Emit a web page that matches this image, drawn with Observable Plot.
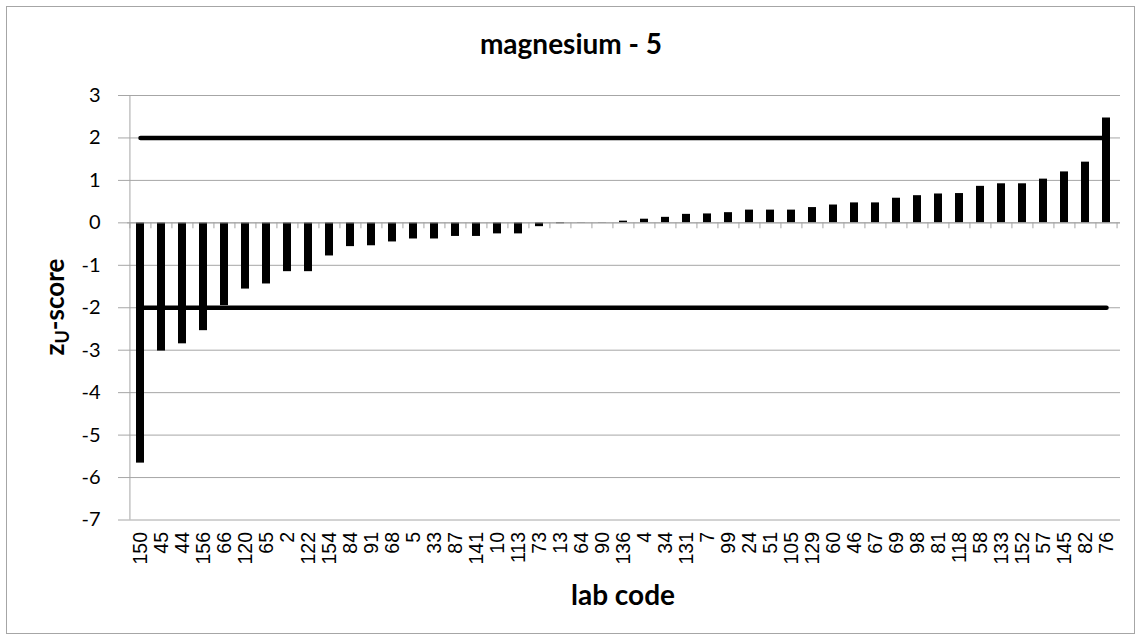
<!DOCTYPE html>
<html>
<head>
<meta charset="utf-8">
<script src="https://cdn.jsdelivr.net/npm/d3@7"></script>
<script src="https://cdn.jsdelivr.net/npm/@observablehq/plot@0.6"></script>
<style>
  html, body { margin: 0; padding: 0; background: #fff; }
  #chart { width: 1141px; height: 640px; }
</style>
</head>
<body>
<div id="chart"></div>
<script>
// ---- data ----
const labCodes = ["150","45","44","156","66","120","65","2","122","154","84","91","68","5","33","87","141","10","113","73","13","64","90","136","4","34","131","7","99","24","51","105","129","60","46","67","69","98","81","118","58","133","152","57","145","82","76"];
const zScores = [-5.66,-3.02,-2.85,-2.54,-1.95,-1.56,-1.44,-1.15,-1.15,-0.78,-0.56,-0.54,-0.45,-0.38,-0.38,-0.32,-0.32,-0.26,-0.26,-0.09,-0.02,0.005,0.005,0.04,0.086,0.13,0.2,0.21,0.24,0.3,0.3,0.3,0.36,0.42,0.47,0.47,0.58,0.64,0.68,0.69,0.86,0.92,0.92,1.03,1.2,1.43,2.47];
const limitLevels = [2, -2];
const yTicks = [-7,-6,-5,-4,-3,-2,-1,0,1,2,3];
const chartTitle = "magnesium - 5";
const xTitle = "lab code";

// ---- tables built from the arrays ----
const bars = labCodes.map((c, i) => ({lab: c, z: zScores[i]}));
const limits = limitLevels.flatMap(l => labCodes.map(c => ({lab: c, z: l, level: l})));

const W = 1141, H = 640;
const mL = 127, mR = 21, mT = 95, mB = 120.5;
const step = (W - mL - mR) / labCodes.length;
const grid = "#a6a6a6";

const plot = Plot.plot({
  width: W,
  height: H,
  marginLeft: mL,
  marginRight: mR,
  marginTop: mT,
  marginBottom: mB,
  style: {fontFamily: "Lato, sans-serif", background: "white"},
  x: {type: "band", domain: labCodes, paddingInner: 0.6, paddingOuter: 0.3},
  y: {domain: [-7, 3]},
  marks: [
    Plot.ruleY(yTicks, {stroke: grid, strokeWidth: 1}),
    Plot.ruleX([labCodes[0]], {y1: -7, y2: 3, stroke: grid, dx: -step / 2}),
    Plot.barY(bars, {x: "lab", y: "z", fill: "black"}),
    Plot.ruleY([0], {stroke: grid, strokeWidth: 1}),
    Plot.ruleX(labCodes, {y1: 0, y2: -0.14, stroke: grid, dx: -step / 2}),
    Plot.ruleX([labCodes[labCodes.length - 1]], {y1: 0, y2: -0.14, stroke: grid, dx: step / 2}),
    Plot.line(limits, {x: "lab", y: "z", z: "level", stroke: "black", strokeWidth: 4.5, strokeLinecap: "round"}),
    Plot.axisY({ticks: yTicks, tickSize: 9, tickPadding: 18, stroke: grid, fill: "black", fontSize: 20, fontFamily: "Lato, sans-serif", label: null, tickFormat: d => String(d)}),
    Plot.axisX({tickRotate: -90, tickSize: 0, tickPadding: 12, fontSize: 19.5, fontFamily: "Liberation Sans, Arial, sans-serif", fill: "black", label: null})
  ]
});

document.getElementById("chart").appendChild(plot);

const svg = d3.select(plot);
// outer chart border
svg.insert("rect", ":first-child")
  .attr("x", 6.5).attr("y", 6.5).attr("width", W - 13).attr("height", H - 13)
  .attr("fill", "white").attr("stroke", "#a6a6a6");

// title
svg.append("text")
  .attr("x", 571).attr("y", 54)
  .attr("text-anchor", "middle")
  .attr("font-family", "Lato, sans-serif").attr("font-weight", "bold").attr("font-size", 28)
  .attr("fill", "black")
  .text(chartTitle);

// x axis title
svg.append("text")
  .attr("x", 623).attr("y", 605)
  .attr("text-anchor", "middle")
  .attr("font-family", "Lato, sans-serif").attr("font-weight", "bold").attr("font-size", 28)
  .attr("fill", "black")
  .text(xTitle);

// y axis title with subscript
const yt = svg.append("text")
  .attr("transform", "translate(64,307) rotate(-90)")
  .attr("text-anchor", "middle")
  .attr("font-family", "Lato, sans-serif").attr("font-weight", "bold").attr("font-size", 26)
  .attr("fill", "black");
yt.append("tspan").text("z");
yt.append("tspan").attr("font-size", 18).attr("dy", 5).text("U");
yt.append("tspan").attr("dy", -5).text("-score");
</script>
</body>
</html>
